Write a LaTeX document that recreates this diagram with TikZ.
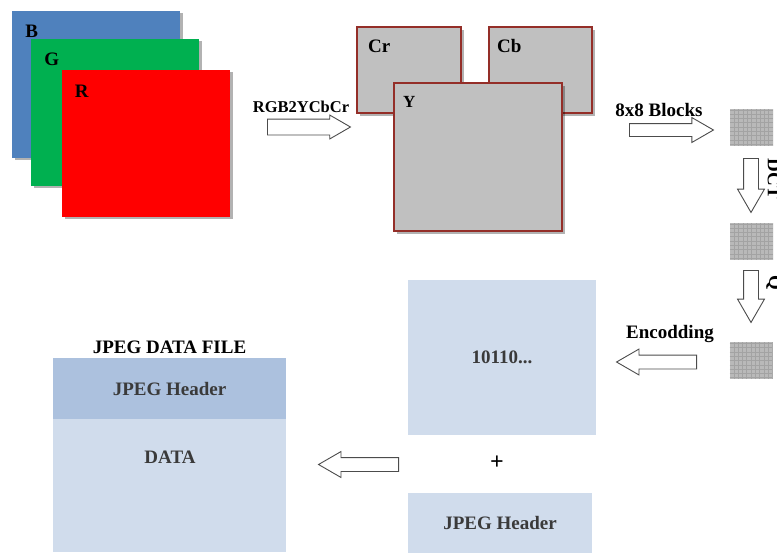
\documentclass[tikz,border=0pt]{standalone}
\usepackage{fontspec}
\setmainfont{Liberation Serif}
\usetikzlibrary{positioning, shapes.arrows, shadows}

\definecolor{planeB}{RGB}{79,129,189}
\definecolor{planeG}{RGB}{0,176,80}
\definecolor{planeR}{RGB}{255,0,0}
\definecolor{chroma}{RGB}{192,192,192}
\definecolor{chromaedge}{RGB}{148,46,40}
\definecolor{paleblue}{RGB}{208,220,236}
\definecolor{headblue}{RGB}{172,193,222}
\definecolor{boxtext}{RGB}{58,58,58}

\tikzset{
    txt/.style={font=\fontsize{19}{22}\selectfont\bfseries, inner sep=0pt},
    castshadow/.style={drop shadow={shadow xshift=2.5pt, shadow yshift=-2.5pt, fill=black, opacity=0.3}},
    plane/.style={castshadow, inner sep=0pt, minimum width=168pt, minimum height=147pt},
    chan/.style={castshadow, draw=chromaedge, line width=1.5pt, fill=chroma, inner sep=0pt},
    inlbl/.style={txt, anchor=center, label distance=0pt},
    % 8x8 block with a fine grid on it
    blk/.style={fill=gray!55, inner sep=0pt, minimum width=43pt, minimum height=37pt,
        path picture={\draw[gray!72, line width=0.5pt, step=4.3pt]
            (path picture bounding box.south west) grid (path picture bounding box.north east);}},
    % hollow block arrow, placed by its tail, shaft 2*inner ysep wide
    fatarrow/.style={single arrow, anchor=tail, draw=black!70, line width=0.9pt, fill=white,
        inner xsep=0pt, inner ysep=7pt, minimum height=82pt,
        single arrow head extend=4pt, single arrow tip angle=60},
    pale/.style={fill=paleblue, inner sep=0pt, text=boxtext, font=\fontsize{19}{22}\selectfont\bfseries},
}

\begin{document}
\begin{tikzpicture}[x=1pt, y=-1pt]
    \useasboundingbox (0,0) rectangle (777,552);

    % colour planes
    \node[plane, fill=planeB, label={[inlbl, xshift=20pt, yshift=-21pt]north west:B}] (B) at (96,84) {};
    \node[plane, fill=planeG, label={[inlbl, xshift=21pt, yshift=-21pt]north west:G}] (G) at (115,112) {};
    \node[plane, fill=planeR, label={[inlbl, xshift=20pt, yshift=-22pt]north west:R}] (R) at (146,143) {};

    \node[fatarrow, minimum height=83pt, inner ysep=7.5pt] (toycc) at (267,127) {};
    \node[txt] (toycclbl) at (301,107) {\fontsize{16.5}{20}\selectfont RGB2YCbCr};

    % luma / chroma planes
    \node[chan, minimum width=104pt, minimum height=86pt,
        label={[inlbl, xshift=23pt, yshift=-20pt]north west:Cr}] (Cr) at (409,70) {};
    \node[chan, minimum width=103pt, minimum height=86pt,
        label={[inlbl, xshift=21pt, yshift=-20pt]north west:Cb}] (Cb) at (540.5,70) {};
    \node[chan, minimum width=168pt, minimum height=148pt,
        label={[inlbl, xshift=16pt, yshift=-20pt]north west:\fontsize{17}{20}\selectfont Y}] (Y) at (478,157) {};

    \node[fatarrow, minimum height=84pt, inner ysep=6pt, single arrow head extend=6pt] (toblk) at (629,130) {};
    \node[txt] (toblklbl) at (659,110) {8x8 Blocks};

    % blocks down the right edge
    \node[blk] (blk1) at (751.5,127) {};
    \node[blk] (blk2) at (751.5,241) {};
    \node[blk] (blk3) at (751,360.5) {};

    \node[fatarrow, rotate=-90, minimum height=54pt, single arrow head extend=6pt] (dct) at (751,158) {};
    \node[txt, rotate=-90] (dctlbl) at (774,179) {DCT};
    \node[fatarrow, rotate=-90, minimum height=52pt, single arrow head extend=6pt] (quant) at (751,270) {};
    \node[txt, rotate=-90] (quantlbl) at (774,283) {Q};

    \node[fatarrow, rotate=180, minimum height=80pt, inner ysep=6.5pt, single arrow head extend=6pt] (enc) at (697,362) {};
    \node[txt] (enclbl) at (670,334) {Encodding};

    % coded stream and header
    \node[pale, minimum width=188pt, minimum height=155pt] (bits) at (502,357.5) {10110...};
    \node[txt, font=\fontsize{24}{26}\selectfont\bfseries] (plus) at (497,463) {+};
    \node[pale, minimum width=184pt, minimum height=60pt] (head) at (500,523) {JPEG Header};

    \node[fatarrow, rotate=180, minimum height=80pt, inner ysep=6.5pt, single arrow head extend=6pt] (join) at (399,464.5) {};

    % output file
    \node[pale, fill=headblue, minimum width=233pt, minimum height=61pt] (filehead) at (169.5,388.5) {JPEG Header};
    \node[pale, below=0pt of filehead, minimum width=233pt, minimum height=133pt, anchor=north] (filedata) {};
    \node[txt, text=boxtext] (datalbl) at (170,457) {DATA};
    \node[txt, above=3.5pt of filehead] (filetitle) {JPEG DATA FILE};
\end{tikzpicture}
\end{document}
